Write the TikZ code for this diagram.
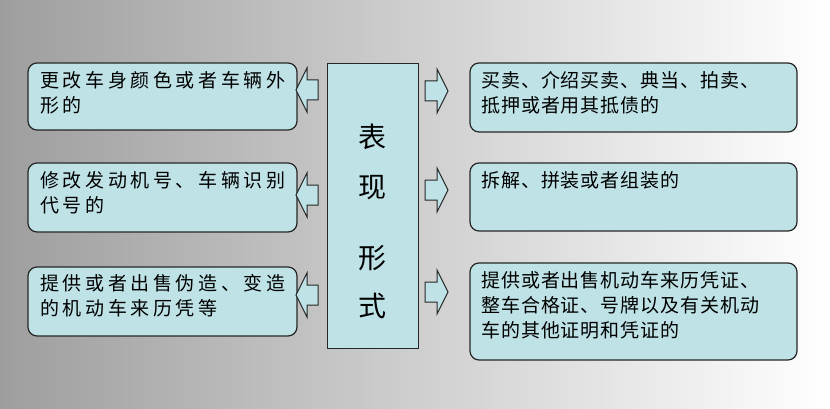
\documentclass[tikz,border=0pt]{standalone}
\usepackage{fontspec}
\newfontfamily\cjkl[LetterSpace=19]{Noto Sans CJK SC}
\newfontfamily\cjkr[LetterSpace=5]{Noto Sans CJK SC}
\newfontfamily\cjk{Noto Sans CJK SC}
\definecolor{boxc}{RGB}{190,226,230}
\begin{document}
\begin{tikzpicture}[x=1pt,y=-1pt,
  box/.style={draw=black!85,line width=1.2pt,rounded corners=9pt,fill=boxc},
  txtl/.style={anchor=north west,align=left,font=\cjkl\fontsize{19}{25}\selectfont,inner sep=0pt},
  txtr/.style={anchor=north west,align=left,font=\cjkr\fontsize{19}{25}\selectfont,inner sep=0pt},
  ar/.style={draw=black!85,line width=1pt,fill=boxc}]
\shade[left color=black!38,right color=white] (0,0) rectangle (830,409);
\useasboundingbox (0,0) rectangle (830,409);
\foreach \a/\b in {63/130,163/232,267/336}{
  \draw[box] (28,\a) rectangle (297,\b);}
\foreach \a/\b in {63/132,163/231,263/360}{
  \draw[box] (470,\a) rectangle (797,\b);}
\node[draw=black!85,line width=1.2pt,fill=boxc,minimum width=91pt,minimum height=285pt,anchor=north west] (c) at (327,63) {};
\node[font=\cjk\fontsize{28}{28}\selectfont] (t1) at (372,137) {表};
\node[font=\cjk\fontsize{28}{28}\selectfont] (t2) at (372,188) {现};
\node[font=\cjk\fontsize{28}{28}\selectfont] (t3) at (372,258) {形};
\node[font=\cjk\fontsize{28}{28}\selectfont] (t4) at (372,306) {式};
\foreach \y in {90,195,295}{
  \draw[ar] (296,\y) -- (307,\y-22) -- (307,\y-10) -- (318,\y-10) -- (318,\y+10) -- (307,\y+10) -- (307,\y+22) -- cycle;}
\foreach \y in {91,190,292}{
  \draw[ar] (448,\y) -- (437,\y-22) -- (437,\y-10) -- (425,\y-10) -- (425,\y+10) -- (437,\y+10) -- (437,\y+22) -- cycle;}
\node[txtl,text width=270pt] (a1) at (40,71) {更改车身颜色或者车辆外\\形的};
\node[txtl,text width=270pt] (a2) at (40,171) {修改发动机号、车辆识别\\代号的};
\node[txtl,text width=270pt] (a3) at (40,274) {提供或者出售伪造、变造\\的机动车来历凭等};
\node[txtr,text width=330pt] (b1) at (481,71) {买卖、介绍买卖、典当、拍卖、\\抵押或者用其抵债的};
\node[txtr,text width=330pt] (b2) at (481,171) {拆解、拼装或者组装的};
\node[txtr,text width=330pt] (b3) at (481,271) {提供或者出售机动车来历凭证、\\整车合格证、号牌以及有关机动\\车的其他证明和凭证的};
\end{tikzpicture}
\end{document}
